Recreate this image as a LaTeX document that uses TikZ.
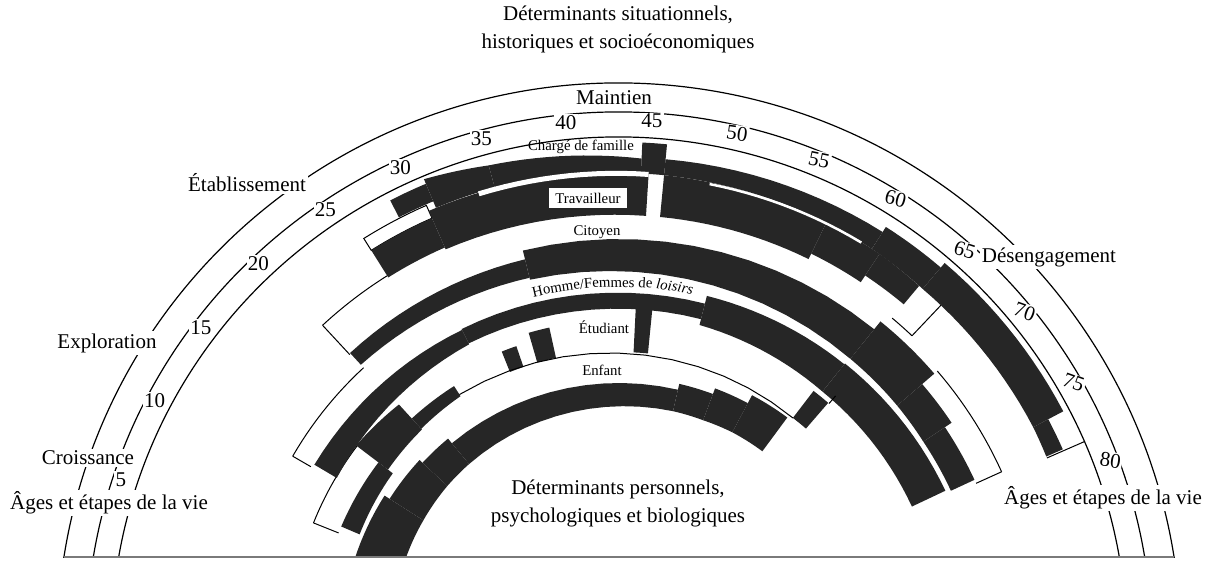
\documentclass[tikz,border=0pt]{standalone}
\usepackage{fontspec}
\setmainfont{Liberation Serif}
\usetikzlibrary{decorations.text}
\definecolor{bandblack}{HTML}{262626}
\definecolor{groundgray}{HTML}{7A7A7A}

% age -> angle is 171-1.88*age, radii in pixels of the original
\newcommand{\band}[7][bandblack]{%
  \fill[#1] plot[domain=#2:#3, samples=14, variable=\t]
      ({171-1.88*\t}:{#4+(#5-#4)*(\t-#2)/(#3-#2)})
    -- plot[domain=#3:#2, samples=14, variable=\t]
      ({171-1.88*\t}:{#6+(#7-#6)*(\t-#2)/(#3-#2)}) -- cycle;}
\newcommand{\ringarc}[4]{%
  \draw[outline] plot[domain=#1:#2, samples=14, variable=\t]
      ({171-1.88*\t}:{#3+(#4-#3)*(\t-#1)/(#2-#1)});}
\newcommand{\ringtick}[3]{%
  \draw[outline] ({171-1.88*#1}:#2) -- ({171-1.88*#1}:#3);}

\begin{document}
\begin{tikzpicture}[x=0.5pt, y=0.5pt,
    stage/.style={font=\fontsize{10.5}{14}\selectfont, fill=white, inner sep=1pt},
    agenum/.style={font=\fontsize{10.5}{12}\selectfont, fill=white, inner sep=0.6pt},
    role/.style={font=\fontsize{7.4}{9}\selectfont, inner sep=1pt},
    arcline/.style={line width=0.6pt},
    outline/.style={line width=0.5pt},
]
\useasboundingbox (-619,83) rectangle (590,645);

\begin{scope}
  \clip (-619,88) rectangle (590,645);
  % age rings
  \foreach \r in {562,533,508}
    \draw[arcline] (172:\r) arc[start angle=172, end angle=8, radius=\r];

  % outlined empty parts of the rings
  \band[fill=white, draw=black, line width=0.5pt]{26}{30.5}{480}{480}{466}{466}
  \ringarc{20.3}{26}{436}{436}
  \ringtick{20.3}{396}{436}
  \ringarc{11.2}{20.4}{377}{377}
  \ringtick{11.2}{356}{377}
  \ringarc{6.8}{15}{329}{329}
  \ringtick{6.8}{302}{329}
  \ringarc{64.3}{66.2}{426}{426}
  \ringtick{66.2}{426}{468}
  \ringarc{69.3}{78}{420}{420}
  \ringtick{78}{392}{420}
  \ringtick{78.4}{467}{508}

  % Charge de famille
  \band{28.6}{31}{500}{500}{481}{481}
  \band{31}{35}{505}{497}{474}{474}
  \band{35}{44.5}{497}{487}{474}{472}
  \band{44.5}{46}{503}{503}{472}{472}
  \band{46}{60.4}{488}{490}{472}{470}
  \band{60.4}{64.6}{496}{496}{470}{468}
  \band{64.6}{76.2}{502}{502}{468}{468}
  \band{76.2}{78.3}{485}{485}{468}{467}
  % Travailleur
  \band{26}{30.5}{466}{466}{434}{434}
  \band{30.5}{45}{474}{472}{432}{430}
  \band{46}{57}{472}{470}{430}{430}
  \band{57}{61}{470}{470}{436}{436}
  \band{61}{64.3}{470}{468}{444}{444}
  \band[white]{33.9}{45}{475}{474}{470}{469}
  \band[white]{49}{59.6}{471}{471}{468.5}{468.5}
  % Citoyen
  \band{20.4}{35.8}{397}{397}{381}{378}
  \band{35.8}{63.8}{406}{406}{376}{368}
  \band{63.8}{69.3}{416}{416}{368}{367}
  \band{69.3}{73}{400}{400}{367}{366}
  \band{73}{77.7}{392}{392}{366}{366}
  % Homme/Femmes de loisirs
  \band{11.5}{29}{354}{352}{328}{336}
  \band{29}{50.6}{353}{352}{337}{336}
  \band{50.6}{63.7}{360}{360}{330}{325}
  \band{63.7}{77.5}{361}{361}{325}{324}
  % Etudiant
  \band{7.5}{15}{302}{302}{282}{284}
  \band{15}{20.5}{330}{326}{290}{292}
  \band{20.5}{25.8}{307}{307}{293}{295}
  \band{31.5}{33}{316}{316}{294}{294}
  \band{34.5}{36.5}{325}{325}{294}{294}
  \band{44.6}{46.1}{337}{337}{293}{293}
  \band{63}{64.8}{320}{320}{286}{286}
  \ringarc{25.8}{63}{297}{286}
  \ringtick{64.9}{320}{330}
  % Enfant
  \band{0}{12.5}{278}{278}{228}{232}
  \band{12.5}{18}{272}{272}{232}{234}
  \band{18}{22}{268}{268}{234}{235}
  \band{22}{50}{262}{262}{235}{240}
  \band{50}{54}{268}{268}{240}{240}
  \band{54}{58}{274}{274}{240}{241}
  \band{58}{62.5}{283}{283}{241}{241}
\end{scope}

\draw[groundgray, line width=1pt] (-555,88) -- (555,88);

% ages
\foreach \a/\rot in {5/0,10/0,15/0,20/0,25/0,30/0,35/0,40/0,45/0,
                     50/-8,55/-12,60/-15,65/-18,70/-20,75/-20,80/-8}
  \node[agenum, rotate=\rot] (age\a) at ({171-1.88*\a}:525) {\a};

% life stages
\node[stage] (maintien) at (-5,547) {Maintien};
\node[stage] (etabli) at (-372,462) {Établissement};
\node[stage] (explo) at (-512,302) {Exploration};
\node[stage] (croiss) at (-531,187) {Croissance};
\node[stage] (desen) at (430,388) {Désengagement};
\node[stage] (agesL) at (-510,142) {Âges et étapes de la vie};
\node[stage] (agesR) at (484,147) {Âges et étapes de la vie};

\node[stage, align=center] (situ) at (-1,616)
  {Déterminants situationnels,\\historiques et socioéconomiques};
\node[stage, align=center] (perso) at (-1,142)
  {Déterminants personnels,\\psychologiques et biologiques};

% roles
\node[role] (famille) at (-38,498) {Chargé de famille};
\node[role, fill=white, minimum width=39pt, minimum height=10pt] (travail) at (-31,447) {Travailleur};
\node[role] (citoyen) at (-22,413) {Citoyen};
\path[decorate, decoration={text along path, text align=center,
    text={|\fontsize{7.4}{9}\selectfont|Homme/Femmes de |\fontsize{7.4}{9}\selectfont\itshape|loisirs}}]
  (105:358) arc[start angle=105, end angle=77, radius=358];
\node[role] (etudiant) at (-15,318) {Étudiant};
\node[role] (enfant) at (-17,275) {Enfant};
\end{tikzpicture}
\end{document}
